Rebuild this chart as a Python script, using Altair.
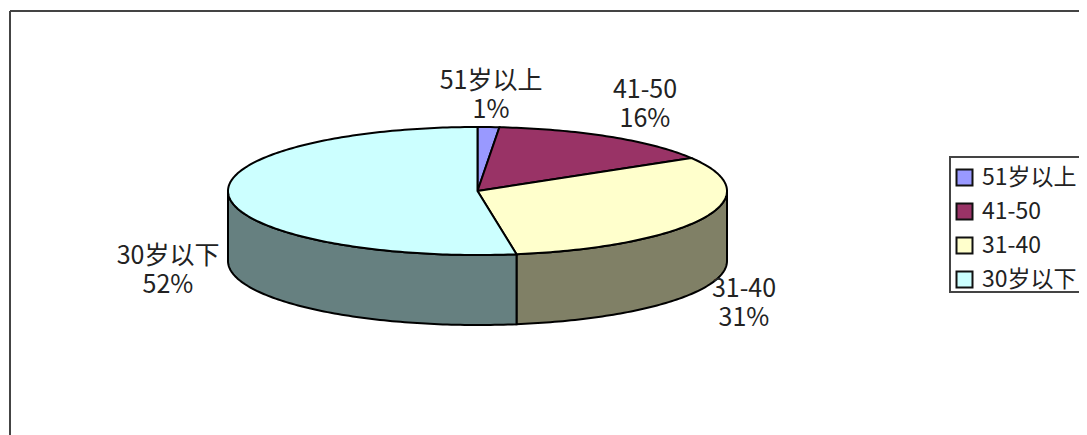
import math
import altair as alt

# Chart values
CATEGORIES = ["51岁以上", "41-50", "31-40", "30岁以下"]
SHARES = [1.4, 15.0, 31.1, 52.5]          # slice extent as drawn
PERCENT_LABELS = ["1%", "16%", "31%", "52%"]

# Styles and layout
COLORS = ["#9999FF", "#993366", "#FFFFCC", "#CCFFFF"]
WALL_COLORS = ["#4D4D80", "#4D1A33", "#808066", "#668080"]
LABEL_X = [483, 637, 736, 160]
LABEL_Y = [73, 82, 281, 248]
FONT = "Noto Sans CJK SC"
FS = 25
CX, CY, RX, RY, DEPTH = 469.5, 183, 249.5, 64, 70


def pt(deg, dy=0):
    r = math.radians(deg)
    return [CX + RX * math.sin(r), CY - RY * math.cos(r) + dy]


def feature(ring, cat):
    return {"type": "Feature",
            "geometry": {"type": "Polygon", "coordinates": [ring + [ring[0]]]},
            "properties": {"cat": cat}}


tops = []
wall_layers = []
start = 0.0
for cat, share, wcol in zip(CATEGORIES, SHARES, WALL_COLORS):
    end = start + share * 3.6
    n = max(int(end - start), 2)
    arc = [start + (end - start) * i / n for i in range(n + 1)]
    tops.append(feature([[CX, CY]] + [pt(a) for a in arc], cat))
    lo, hi = max(start, 90.0), min(end, 270.0)
    if hi > lo:
        m = max(int(hi - lo), 2)
        vis = [lo + (hi - lo) * i / m for i in range(m + 1)]
        wall = feature([pt(a) for a in vis] + [pt(a, DEPTH) for a in reversed(vis)], cat)
        wall_layers.append(
            alt.Chart(alt.Data(values=[wall]))
            .mark_geoshape(fill=wcol, stroke="black", strokeWidth=2)
            .project(type="identity", scale=1, translate=[0, 0])
        )
    start = end

top_layer = (
    alt.Chart(alt.Data(values=tops))
    .mark_geoshape(stroke="black", strokeWidth=2)
    .encode(
        fill=alt.Fill(
            "properties.cat:N",
            scale=alt.Scale(domain=CATEGORIES, range=COLORS),
            legend=alt.Legend(
                title=None,
                orient="none",
                legendX=945,
                legendY=158,
                symbolType="square",
                symbolSize=256,
                symbolStrokeColor="#111111",
                symbolStrokeWidth=2,
                labelFont=FONT,
                labelFontSize=23,
                labelColor="#222222",
                labelOffset=6,
                labelLimit=200,
                rowPadding=9,
                padding=0,
            ),
        )
    )
    .project(type="identity", scale=1, translate=[0, 0])
)

rows = [
    {"t": c + "\n" + p, "x": x, "y": y}
    for c, p, x, y in zip(CATEGORIES, PERCENT_LABELS, LABEL_X, LABEL_Y)
]

labels = (
    alt.Chart(alt.Data(values=rows))
    .mark_text(font=FONT, fontSize=FS, color="#222222", align="center", baseline="middle",
               lineBreak="\n", lineHeight=29)
    .encode(x=alt.X("x:Q", scale=None), y=alt.Y("y:Q", scale=None), text="t:N")
)

one = alt.Data(values=[{"a": 1}])
frame_left = alt.Chart(one).mark_rule(color="#444444", strokeWidth=2).encode(
    x=alt.value(2), y=alt.value(3), y2=alt.value(427))
frame_top = alt.Chart(one).mark_rule(color="#444444", strokeWidth=2).encode(
    x=alt.value(2), x2=alt.value(1079), y=alt.value(3))
legend_box = alt.Chart(one).mark_rect(fill="white", stroke="#444444", strokeWidth=2).encode(
    x=alt.value(942), x2=alt.value(1100), y=alt.value(149), y2=alt.value(284))

chart = (
    alt.layer(frame_left, frame_top, legend_box, *wall_layers, top_layer, labels)
    .properties(width=1071, height=427, padding=0, autosize=alt.AutoSizeParams(type="none"))
    .configure_view(stroke=None)
)

chart.save("out.html", embed_options={"renderer": "svg", "actions": False})
